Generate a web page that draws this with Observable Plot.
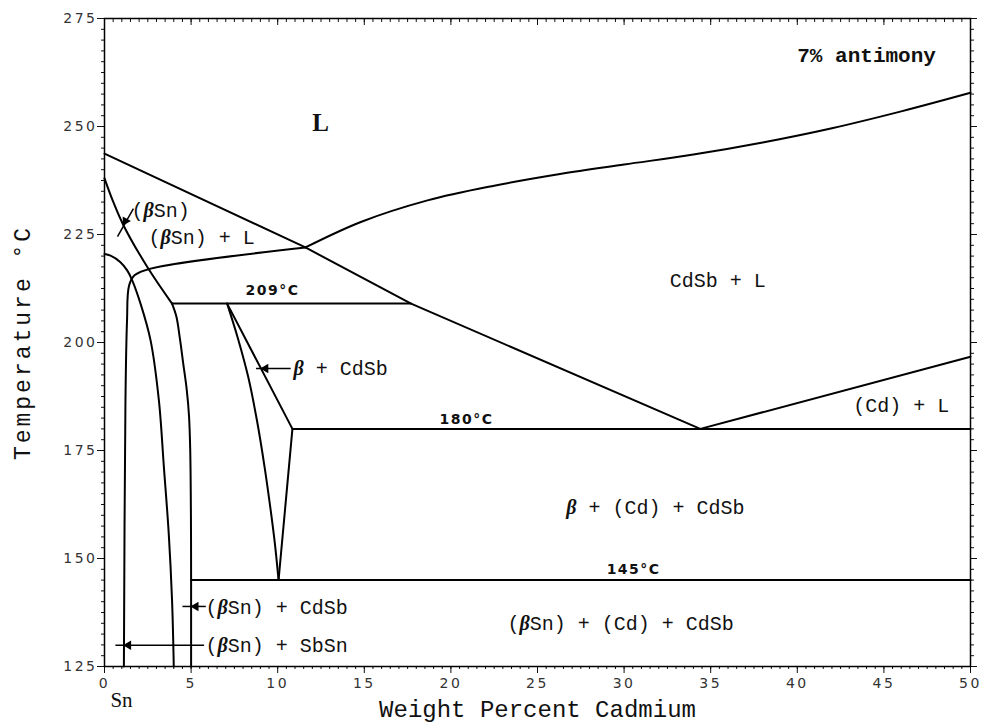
<!DOCTYPE html>
<html><head><meta charset="utf-8">
<script src="https://cdn.jsdelivr.net/npm/d3@7"></script>
<script src="https://cdn.jsdelivr.net/npm/@observablehq/plot@0.6"></script>
<style>body{margin:0;background:#fff}</style>
</head><body><div id="chart"></div>
<script>
// ---- axis ticks ----
const xTicks = [0, 5, 10, 15, 20, 25, 30, 35, 40, 45, 50];
const yTicks = [125, 150, 175, 200, 225, 250, 275];
const xMinorStep = 0.5;
const yMinorStep = 2.5;

// ---- phase boundaries [wt% Cd, °C] ----
// straight segments
const liquidusSn   = [[0, 243.7], [11.6, 222.0], [17.7, 209.0], [34.4, 180.0]];
const iso209       = [[3.9, 209], [17.7, 209]];
const iso180       = [[10.85, 180], [50, 180]];
const iso145       = [[5.0, 145], [50, 145]];
const betaRight    = [[7.08, 209], [10.85, 180], [10.05, 145]];
const liquidusCd   = [[34.4, 180], [50, 196.7]];
const snLimit      = [[5.0, 145], [5.0, 125]];
// curved boundaries
const liquidusCdSb = [[11.6, 222.0], [14.8, 227.9], [18.65, 232.9], [22.5, 236.3], [26.3, 239.0], [30, 241.2], [34, 243.5], [38, 246.3], [42, 249.6], [46, 253.5], [50, 257.8]];
const solidusSn    = [[0, 238.0], [0.5, 232.6], [1.1, 227.1], [2.5, 217.3], [3.9, 209.0]];
const solvusSn     = [[0, 220.5], [0.35, 220.1], [0.92, 218.6], [1.31, 216.7], [1.6, 214.4], [2.08, 209.0], [2.66, 200.5], [3.14, 186.6], [3.43, 171.1], [3.71, 155.7], [3.9, 140.3], [4.0, 125]];
const boundaryB    = [[1.12, 125], [1.21, 186.6], [1.3, 205.0], [1.42, 213.2], [1.75, 215.6], [2.66, 217.1], [11.6, 222.0]];
const curveC       = [[3.9, 209.0], [4.15, 206.0], [4.35, 201.0], [4.55, 195.0], [4.75, 189.0], [4.88, 183.0], [4.95, 175.0], [4.99, 160.0], [5.0, 145.0]];
const betaLeft     = [[7.08, 209.0], [7.7, 201.0], [8.3, 192.0], [8.8, 182.0], [9.25, 171.0], [9.6, 161.0], [9.85, 153.0], [10.05, 145.0]];

// ---- leader arrows ----
const arrowX1 = [1.67, 10.75, 5.85, 5.75];
const arrowY1 = [231.0, 194.0, 138.9, 129.9];
const arrowX2 = [0.75, 8.75, 4.5, 0.63];
const arrowY2 = [224.5, 194.0, 138.9, 129.9];
const headX   = [1.21, 9.3, 5.27, 1.38];
const headY   = [228.1, 194.0, 138.9, 129.9];
const headRot = [210, 270, 270, 270];

// ---- labels ----
const phaseText   = ["(βSn)", "(βSn) + L", "CdSb + L", "β + CdSb", "(Cd) + L", "β + (Cd) + CdSb", "(βSn) + CdSb", "(βSn) + SbSn", "(βSn) + (Cd) + CdSb"];
const phaseX      = [1.56, 2.54, 35.4, 10.91, 46.0, 31.8, 5.83, 5.83, 29.8];
const phaseY      = [230.6, 224.3, 214.35, 194.0, 185.4, 161.8, 138.7, 129.9, 134.95];
const phaseAnchor = ["start", "start", "middle", "start", "middle", "middle", "start", "start", "middle"];
const isoText = ["209°C", "180°C", "145°C"];
const isoX    = [9.7, 20.9, 30.55];
const isoY    = [212.0, 182.2, 147.5];

const toRows = obj => Object.entries(obj).flatMap(([id, pts]) => pts.map(([x, y]) => ({id, x, y})));
const straightRows = toRows({liquidusSn, iso209, iso180, iso145, betaRight, liquidusCd, snLimit});
const curvedRows = toRows({liquidusCdSb, solidusSn, solvusSn, boundaryB, curveC, betaLeft});
const arrows = arrowX1.map((d, i) => ({x1: d, y1: arrowY1[i], x2: arrowX2[i], y2: arrowY2[i]}));
const heads = headX.map((d, i) => ({x: d, y: headY[i], r: headRot[i]}));
const phases = phaseText.map((t, i) => ({t, x: phaseX[i], y: phaseY[i], a: phaseAnchor[i]}));
const isos = isoText.map((t, i) => ({t, x: isoX[i], y: isoY[i]}));

const xMinor = d3.range(0, 50 + 1e-9, xMinorStep);
const yMinor = d3.range(125, 275 + 1e-9, yMinorStep);
const mono = "'Liberation Mono', 'Courier New', monospace";
const sans = "'DejaVu Sans', Verdana, sans-serif";
const serif = "'Liberation Serif', 'Times New Roman', serif";
const blank = () => "";

const chart = Plot.plot({
  width: 984, height: 727,
  marginLeft: 104, marginRight: 14, marginTop: 18, marginBottom: 61,
  x: {domain: [0, 50]},
  y: {domain: [125, 275]},
  style: {background: "#fff", color: "#111", fontFamily: sans},
  marks: [
    Plot.axisX({ticks: xMinor, tickSize: 3, tickFormat: blank, label: null}),
    Plot.axisX({ticks: xTicks, tickSize: 7, tickPadding: 5, tickFormat: d => String(d), fontSize: 14, fill: "#333", label: null}),
    Plot.axisX({anchor: "top", ticks: xMinor, tickSize: 3, dy: 3, tickFormat: blank, label: null}),
    Plot.axisX({anchor: "top", ticks: xTicks, tickSize: 6, dy: 6, tickFormat: blank, label: null}),
    Plot.axisY({ticks: yMinor, tickSize: 3, tickFormat: blank, label: null}),
    Plot.axisY({ticks: yTicks, tickSize: 7, tickPadding: 0, tickFormat: d => String(d), fontSize: 14, fill: "#333", label: null}),
    Plot.axisY({anchor: "right", ticks: yMinor, tickSize: 3, tickFormat: blank, label: null}),
    Plot.axisY({anchor: "right", ticks: yTicks, tickSize: 6, tickFormat: blank, label: null}),
    Plot.frame({stroke: "#000", strokeWidth: 1.5}),
    Plot.line(straightRows, {x: "x", y: "y", z: "id", stroke: "#000", strokeWidth: 2}),
    Plot.line(curvedRows, {x: "x", y: "y", z: "id", stroke: "#000", strokeWidth: 2, curve: "catmull-rom"}),
    Plot.link(arrows, {x1: "x1", y1: "y1", x2: "x2", y2: "y2", stroke: "#000", strokeWidth: 1.5}),
    Plot.dot(heads, {x: "x", y: "y", rotate: "r", symbol: "triangle2", r: 4.5, fill: "#000"}),
    Plot.text(phases, {filter: d => d.a === "start", x: "x", y: "y", text: "t", textAnchor: "start", fontFamily: mono, fontSize: 20, fill: "#111"}),
    Plot.text(phases, {filter: d => d.a === "middle", x: "x", y: "y", text: "t", textAnchor: "middle", fontFamily: mono, fontSize: 20, fill: "#111"}),
    Plot.text(isos, {x: "x", y: "y", text: "t", fontFamily: sans, fontSize: 14, fill: "#111"}),
    Plot.text(["7% antimony"], {x: 44.0, y: 266.4, text: d => d, fontFamily: mono, fontSize: 21, fontWeight: "bold", fill: "#111"}),
    Plot.text(["L"], {x: 12.47, y: 250.9, text: d => d, fontFamily: serif, fontSize: 25, fontWeight: "bold", fill: "#111"}),
    Plot.text(["Sn"], {x: 0.98, y: 125, dy: 34, text: d => d, fontFamily: serif, fontSize: 21, fill: "#111"}),
    Plot.text(["Weight Percent Cadmium"], {frameAnchor: "bottom", lineAnchor: "middle", textAnchor: "middle", dy: 43, text: d => d, fontFamily: mono, fontSize: 24, fill: "#111"}),
    Plot.text(["Temperature °C"], {frameAnchor: "left", textAnchor: "middle", lineAnchor: "middle", dx: -82, rotate: -90, text: d => d, fontFamily: mono, fontSize: 23, fill: "#111"})
  ]
});
document.getElementById("chart").append(chart);
const sel = d3.select(chart);
sel.selectAll('g[aria-label="y-axis tick label"] text, g[aria-label="x-axis tick label"] text').style("letter-spacing", "2.5px");
sel.selectAll('g[aria-label="text"]').filter(function(){ return /Temperature/.test(this.textContent); }).selectAll("text").style("letter-spacing", "3px");
sel.selectAll('g[aria-label="text"]').filter(function(){ return /°C/.test(this.textContent) && !/Temperature/.test(this.textContent); }).selectAll("text").style("letter-spacing", "1.5px").style("font-weight", "600");
// italic serif beta, as in the original typesetting
sel.selectAll('g[aria-label="text"] text').each(function() {
  const s = this.textContent;
  if (!s.includes("β")) return;
  const el = d3.select(this);
  el.text(null);
  s.split(/(β)/).filter(p => p.length).forEach(p => {
    const ts = el.append("tspan").text(p);
    if (p === "β") ts.style("font-family", serif).style("font-style", "italic").style("font-weight", "bold");
  });
});
</script></body></html>
